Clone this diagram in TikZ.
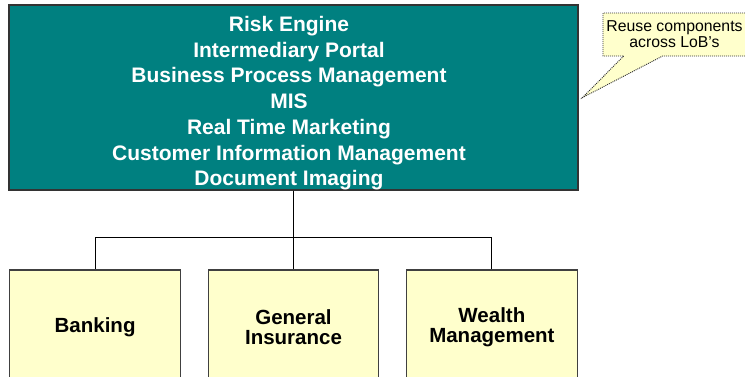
\documentclass[tikz,border=0pt]{standalone}
\usepackage{fontspec}
\setmainfont{Liberation Sans}
\usetikzlibrary{shapes.callouts}
\definecolor{coreteal}{RGB}{0,128,128}
\definecolor{lobyellow}{RGB}{255,255,204}

\begin{document}
\begin{tikzpicture}[x=1bp, y=1bp,
    corebox/.style={draw=black!80, line width=1.2bp, fill=coreteal,
      minimum width=569bp, minimum height=185bp, inner sep=0pt},
    corelist/.style={text=white, inner sep=0pt, align=center,
      font=\fontsize{21bp}{25.7bp}\selectfont\bfseries},
    lobbox/.style={draw=black!75, line width=1.2bp, fill=lobyellow,
      minimum width=170.5bp, minimum height=114bp, inner sep=0pt, align=center,
      font=\fontsize{20.5bp}{19.5bp}\selectfont\bfseries},
    note/.style={rectangle callout, draw=black!80, line width=0.9bp,
      dash pattern=on 1bp off 1bp, fill=lobyellow,
      minimum width=143bp, minimum height=43bp, inner sep=0pt, align=center,
      callout pointer width=39bp, font=\fontsize{15.8bp}{16bp}\selectfont},
    level 1/.style={sibling distance=198.4bp, level distance=229.5bp},
    edge from parent/.style={draw=black, fill=none, line width=1bp},
    edge from parent path={(\tikzparentnode.south) -- +(0,-47) -| (\tikzchildnode.north)}]
  \useasboundingbox (0,0) rectangle (745,-376);
  % shared components and lines of business
  \node[corebox] (core) at (293.5,-97.5) {}
    child {node[lobbox] (banking) {Banking}}
    child {node[lobbox] (insurance) {General\\Insurance}}
    child {node[lobbox] (wealth) {Wealth\\Management}};
  \node[corelist] (components) at (289,-103.3) {Risk Engine\\
    Intermediary Portal\\
    Business Process Management\\
    MIS\\
    Real Time Marketing\\
    Customer Information Management\\
    Document Imaging};
  % callout
  \node[note, callout absolute pointer={([xshift=4bp]core.east)}] (reuse)
    at (674.5,-34.5) {Reuse components\\across LoB’s};
\end{tikzpicture}
\end{document}
